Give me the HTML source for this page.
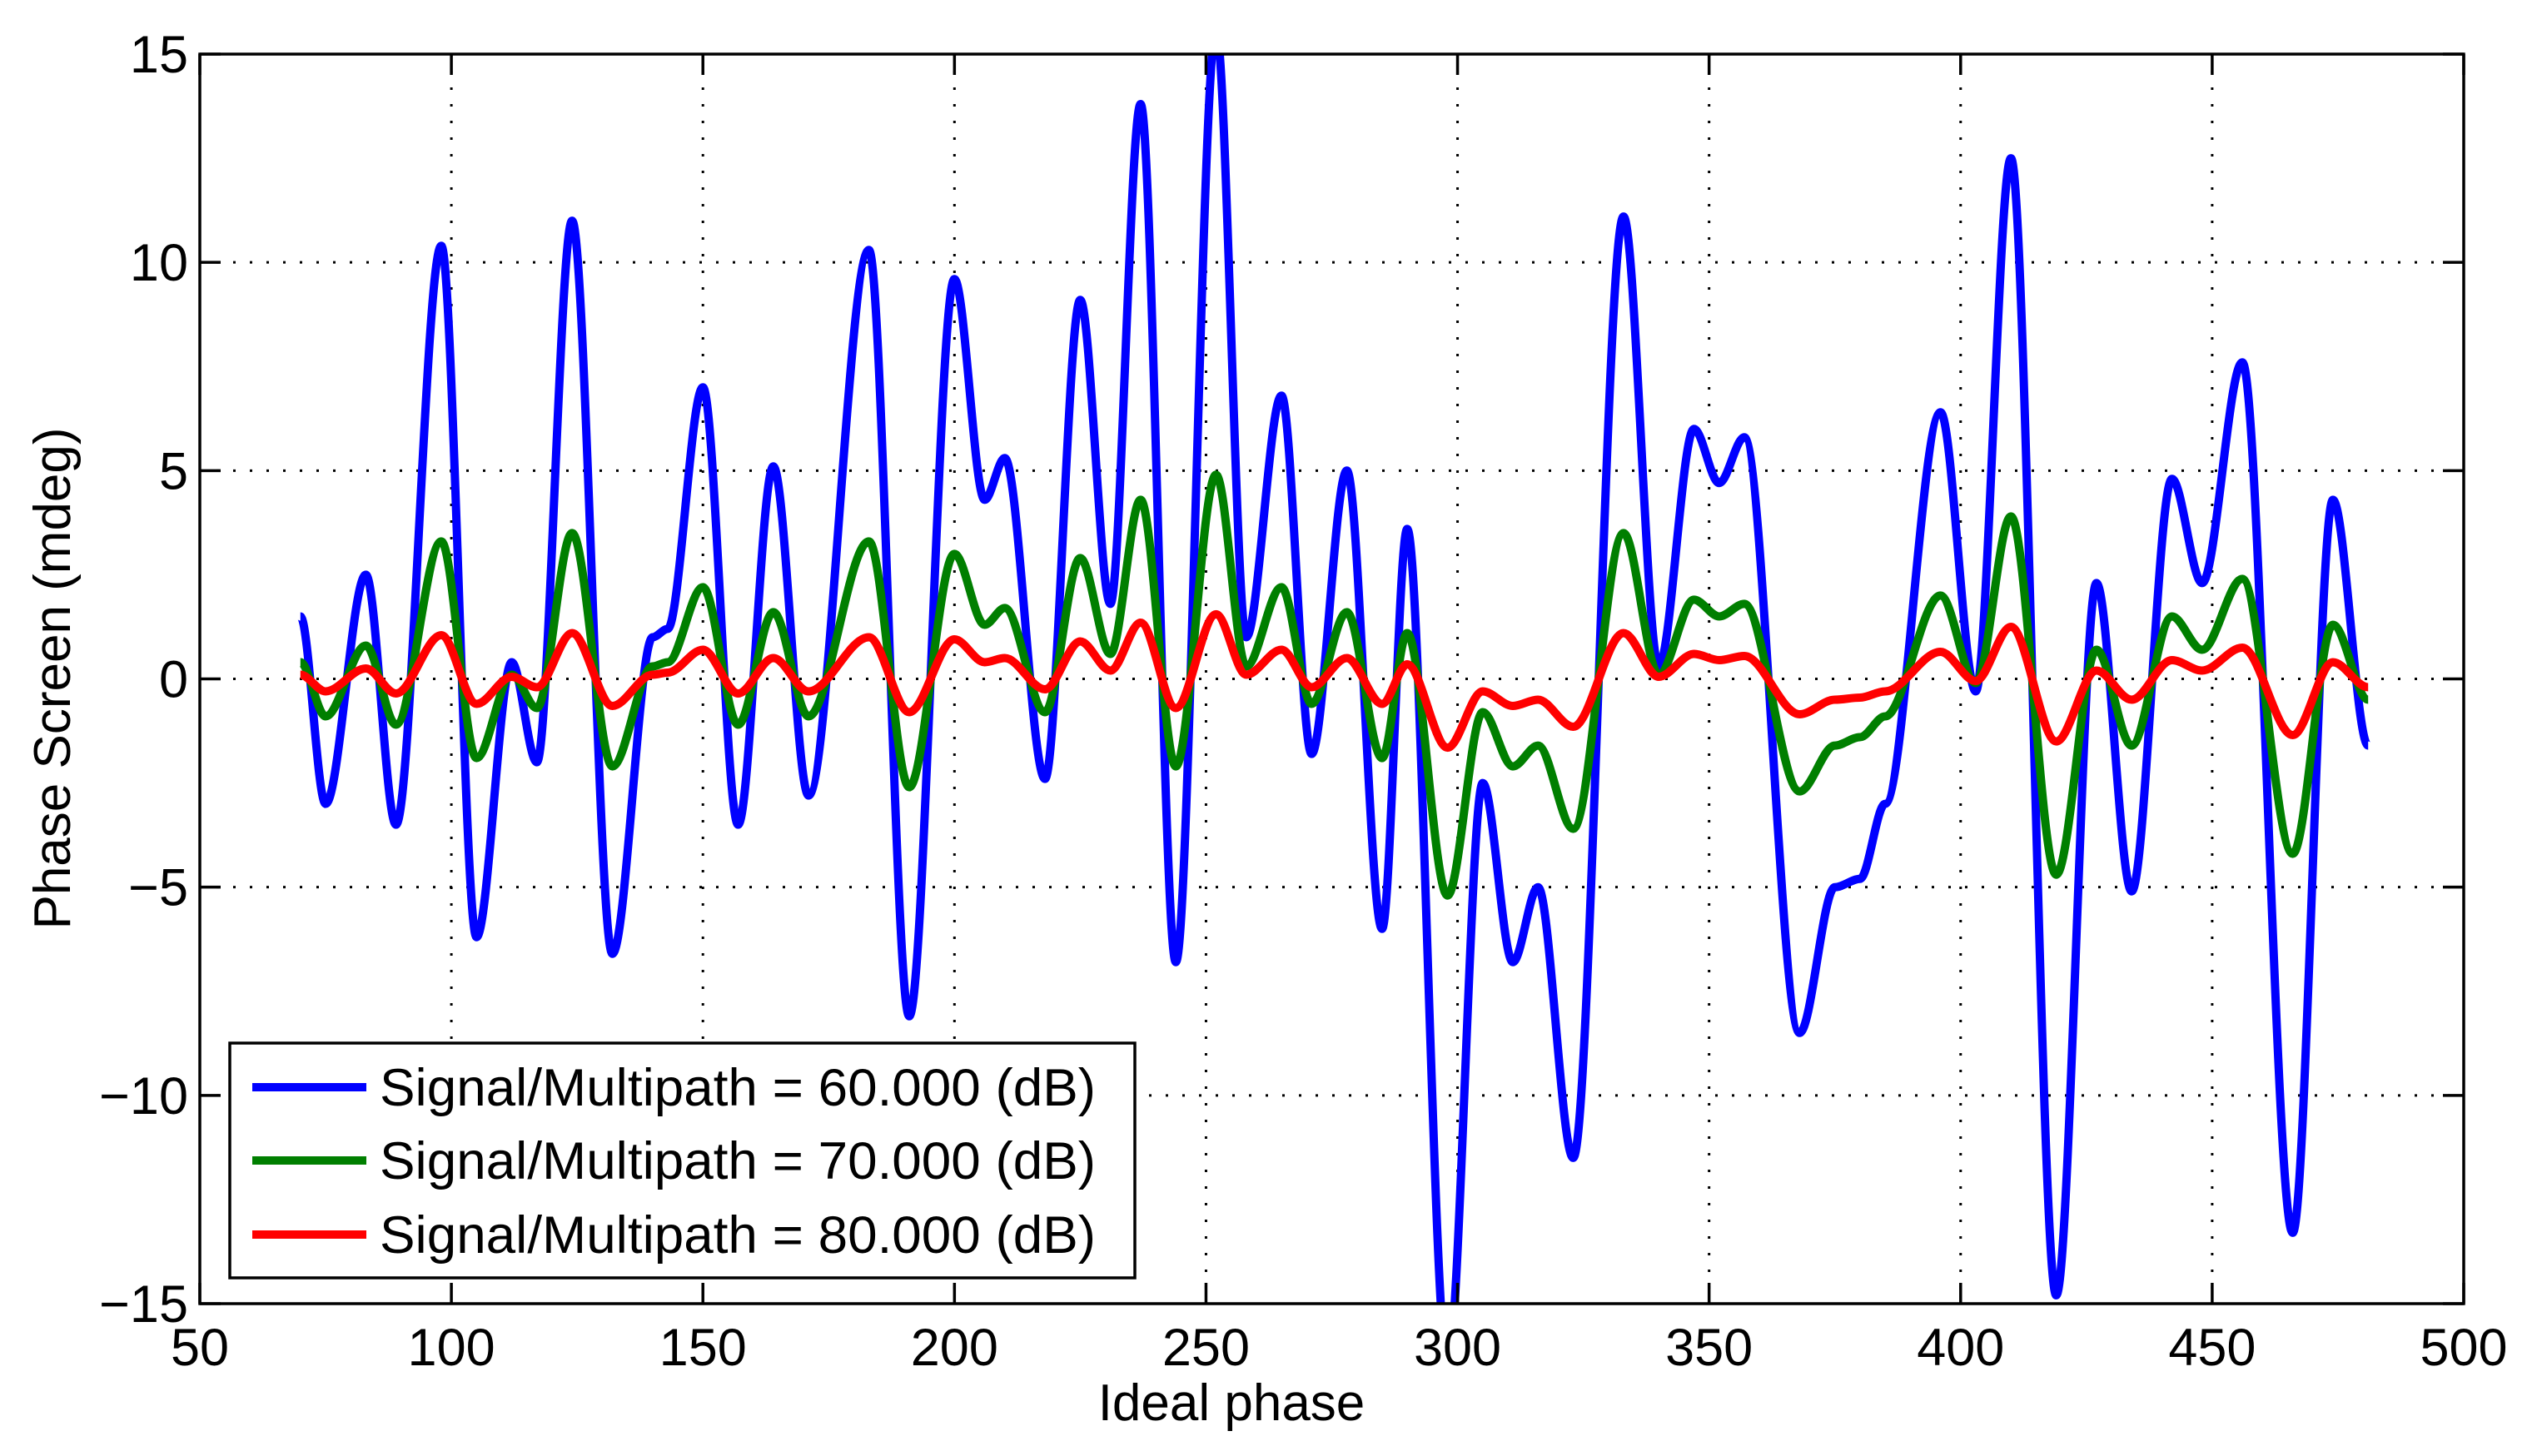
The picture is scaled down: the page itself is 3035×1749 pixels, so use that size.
<!DOCTYPE html>
<html><head><meta charset="utf-8"><style>
html,body{margin:0;padding:0;background:#fff;}
svg{display:block;font-family:"Liberation Sans",Arial,sans-serif;}
</style></head><body>
<svg id="chart" width="3035" height="1749" viewBox="0 0 3035 1749" xmlns="http://www.w3.org/2000/svg">
<defs><clipPath id="plotclip"><rect x="240" y="65" width="2719" height="1501"/></clipPath></defs>
<rect x="0" y="0" width="3035" height="1749" fill="#fff"/>
<g id="grid"></g>
<g id="series" clip-path="url(#plotclip)"></g>
<rect x="240" y="65" width="2719" height="1501" fill="none" stroke="#000" stroke-width="3.5"/>
<g id="ticks"></g>
<text x="1479" y="1706" font-size="62" text-anchor="middle">Ideal phase</text>
<text x="0" y="0" font-size="62" text-anchor="middle" transform="translate(84,815) rotate(-90)">Phase Screen (mdeg)</text>
<g>
<rect x="276" y="1253" width="1087" height="282" fill="#fff" stroke="#000" stroke-width="3.5"/>
<line x1="303" y1="1306" x2="440" y2="1306" stroke="#0000ff" stroke-width="10"/>
<text x="456" y="1328" font-size="63" textLength="860" lengthAdjust="spacingAndGlyphs">Signal/Multipath = 60.000 (dB)</text>
<line x1="303" y1="1394" x2="440" y2="1394" stroke="#007f00" stroke-width="10"/>
<text x="456" y="1416" font-size="63" textLength="860" lengthAdjust="spacingAndGlyphs">Signal/Multipath = 70.000 (dB)</text>
<line x1="303" y1="1483" x2="440" y2="1483" stroke="#ff0000" stroke-width="10"/>
<text x="456" y="1505" font-size="63" textLength="860" lengthAdjust="spacingAndGlyphs">Signal/Multipath = 80.000 (dB)</text>
</g>
</svg>
<script>
const xTicks=[50,100,150,200,250,300,350,400,450,500];
const yTicks=[-15,-10,-5,0,5,10,15];
const yTickLabels=["\u221215","\u221210","\u22125","0","5","10","15"];
const phaseX=[70,75,83,89,98,105,112,117,124,132,140,143,150,157,164,171,183,191,200,206,210,218,225,231,237,244,252,258,265,271,278,285,290,298,305,311,316,323,333,340,347,352,357,368,375,380,385,396,403,410,419,427,434,442,448,456,466,474,481];
const blue60=[1.5,-3.0,2.5,-3.5,10.4,-6.2,0.4,-2.0,11.0,-6.6,1.0,1.2,7.0,-3.5,5.1,-2.8,10.3,-8.1,9.6,4.3,5.3,-2.4,9.1,1.8,13.8,-6.8,15.6,1.0,6.8,-1.8,5.0,-6.0,3.6,-16.5,-2.5,-6.8,-5.0,-11.5,11.1,0.3,6.0,4.7,5.8,-8.5,-5.0,-4.8,-3.0,6.4,-0.3,12.5,-14.8,2.3,-5.1,4.8,2.3,7.6,-13.3,4.3,-1.6];
const green70=[0.4,-0.9,0.8,-1.1,3.3,-1.9,0.1,-0.7,3.5,-2.1,0.3,0.4,2.2,-1.1,1.6,-0.9,3.3,-2.6,3.0,1.3,1.7,-0.8,2.9,0.6,4.3,-2.1,4.9,0.3,2.2,-0.6,1.6,-1.9,1.1,-5.2,-0.8,-2.1,-1.6,-3.6,3.5,0.1,1.9,1.5,1.8,-2.7,-1.6,-1.4,-0.9,2.0,-0.1,3.9,-4.7,0.7,-1.6,1.5,0.7,2.4,-4.2,1.3,-0.5];
const red80=[0.1,-0.3,0.25,-0.35,1.05,-0.6,0.05,-0.2,1.1,-0.65,0.1,0.15,0.7,-0.35,0.5,-0.3,1.0,-0.8,0.95,0.4,0.5,-0.25,0.9,0.2,1.35,-0.7,1.55,0.1,0.7,-0.2,0.5,-0.6,0.35,-1.65,-0.3,-0.65,-0.5,-1.15,1.1,0.05,0.6,0.45,0.55,-0.85,-0.5,-0.45,-0.3,0.65,-0.05,1.25,-1.5,0.2,-0.5,0.45,0.2,0.75,-1.35,0.4,-0.2];

const NS="http://www.w3.org/2000/svg";
const L=240,T=65,W=2719,H=1501;
function X(v){return L+(v-50)/450*W;}
function Y(v){return T+(15-v)/30*H;}
function mk(tag,attrs,parent){const e=document.createElementNS(NS,tag);for(const k in attrs)e.setAttribute(k,attrs[k]);parent.appendChild(e);return e;}
const grid=document.getElementById('grid'),ticks=document.getElementById('ticks'),series=document.getElementById('series');
xTicks.forEach(v=>{
  const x=X(v);
  if(v>50&&v<500){const g=mk('line',{x1:x,y1:T,x2:x,y2:T+H,stroke:'#000','stroke-width':3,'stroke-dasharray':'3 17'},grid);
  
  }
  const t1=mk('line',{x1:x,y1:T+H,x2:x,y2:T+H-25,stroke:'#000','stroke-width':3.5},ticks);
  
  
  const t2=mk('line',{x1:x,y1:T,x2:x,y2:T+25,stroke:'#000','stroke-width':3.5},ticks);
  
  
  const lb=mk('text',{x:x,y:1640,'font-size':63,'text-anchor':'middle'},ticks);
  lb.textContent=String(v);
  
  
});
yTicks.forEach((v,i)=>{
  const y=Y(v);
  if(v>-15&&v<15){const g=mk('line',{x1:L,y1:y,x2:L+W,y2:y,stroke:'#000','stroke-width':3,'stroke-dasharray':'3 17'},grid);
  
  }
  const t1=mk('line',{x1:L,y1:y,x2:L+25,y2:y,stroke:'#000','stroke-width':3.5},ticks);
  
  
  const t2=mk('line',{x1:L+W,y1:y,x2:L+W-25,y2:y,stroke:'#000','stroke-width':3.5},ticks);
  
  
  const lb=mk('text',{x:226,y:y+22,'font-size':63,'text-anchor':'end'},ticks);
  lb.textContent=yTickLabels[i];
  
  
});
function pathFor(xs,ys){
  let d='M'+X(xs[0]).toFixed(1)+','+Y(ys[0]).toFixed(1);
  for(let i=1;i<xs.length;i++){
    const x0=X(xs[i-1]),y0=Y(ys[i-1]),x1=X(xs[i]),y1=Y(ys[i]),dx=(x1-x0)/3;
    d+=' C'+(x0+dx).toFixed(1)+','+y0.toFixed(1)+' '+(x1-dx).toFixed(1)+','+y1.toFixed(1)+' '+x1.toFixed(1)+','+y1.toFixed(1);
  }
  return d;
}
[[blue60,'#0000ff','series-60db'],[green70,'#007f00','series-70db'],[red80,'#ff0000','series-80db']].forEach(s=>{
  const p=mk('path',{d:pathFor(phaseX,s[0]),fill:'none',stroke:s[1],'stroke-width':10,'stroke-linejoin':'round'},series);
  
  
});
</script>
</body></html>
